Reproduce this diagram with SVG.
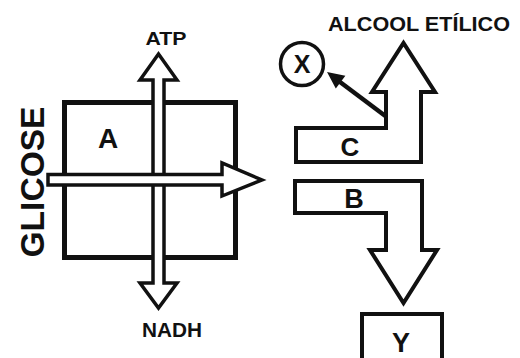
<svg xmlns="http://www.w3.org/2000/svg" width="520" height="358" viewBox="0 0 520 358">
<defs>
<style>
.t{font-family:"Liberation Sans",Arial,sans-serif;font-weight:bold;fill:#111;text-anchor:middle}
.o{fill:#fff;stroke:#111;stroke-linejoin:miter}
</style>
</defs>
<rect width="520" height="358" fill="#fff"/>
<g id="cell-A">
<rect class="o" x="64.5" y="102.5" width="171" height="155" stroke-width="5"/>
<text class="t" x="108" y="148" font-size="28">A</text>
</g>
<g id="connectors">
<path id="atp-nadh" class="o" stroke-width="3.5" d="M158.5,54 L177,80 L164,80 L164,283 L177,283 L158.5,308 L140,283 L153,283 L153,80 L140,80 Z"/>
<path id="glicose-arrow" class="o" stroke-width="3.5" d="M48,174.5 L222,174.5 L222,163 L262,180 L222,196 L222,185 L48,185 Z"/>
<g id="to-x">
<line x1="388" y1="118" x2="340" y2="82" stroke="#111" stroke-width="4.5"/>
<polygon points="327,72 345.4,75.8 335.8,88.6" fill="#111"/>
</g>
</g>
<g id="glicose">
<text class="t" transform="translate(44,182) rotate(-90)" font-size="33" textLength="151" lengthAdjust="spacingAndGlyphs">GLICOSE</text>
</g>
<g id="atp"><text class="t" x="166" y="45" font-size="18" textLength="41" lengthAdjust="spacingAndGlyphs">ATP</text></g>
<g id="nadh"><text class="t" x="172" y="337" font-size="20" textLength="60" lengthAdjust="spacingAndGlyphs">NADH</text></g>
<g id="alcool"><text class="t" x="419" y="31" font-size="20" textLength="182" lengthAdjust="spacingAndGlyphs">ALCOOL ETÍLICO</text></g>
<g id="C">
<path class="o" stroke-width="4" d="M296,128 L386,128 L386,92 L372,92 L403.5,43 L435,92 L421,92 L421,162 L296,162 Z"/>
<text class="t" x="350" y="156" font-size="26">C</text>
</g>
<g id="B">
<path class="o" stroke-width="4" d="M295,181 L422,181 L422,250 L437,250 L403.5,303 L370,250 L386,250 L386,213 L295,213 Z"/>
<text class="t" x="354" y="208" font-size="27">B</text>
</g>
<g id="X">
<circle class="o" cx="302" cy="64" r="21.5" stroke-width="3.5"/>
<text class="t" x="302" y="73" font-size="25">X</text>
</g>
<g id="Y">
<rect class="o" x="362" y="314" width="80" height="60" stroke-width="4"/>
<text class="t" x="401" y="352" font-size="27">Y</text>
</g>
</svg>
